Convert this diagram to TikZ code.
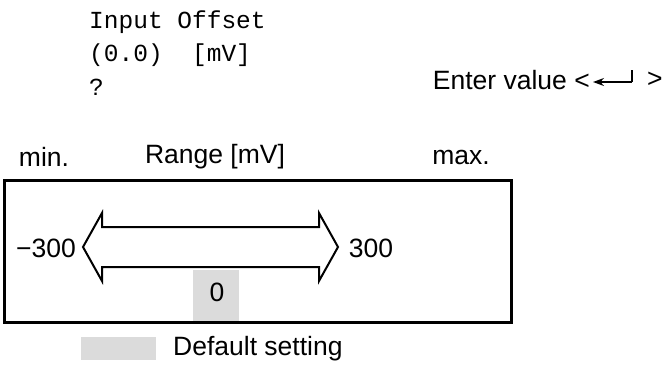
\documentclass[tikz,border=0pt]{standalone}
\usepackage{fontspec}
\setmainfont{Liberation Sans}
\setmonofont{Liberation Mono}
\usetikzlibrary{arrows.meta}
\definecolor{deflt}{gray}{0.86}
\tikzset{
  lbl/.style={inner sep=0pt,font=\fontsize{26.5}{31}\selectfont},
  scr/.style={inner sep=0pt,anchor=west,font=\ttfamily\fontsize{24.5}{29}\selectfont},
}
\begin{document}
\begin{tikzpicture}[x=1pt,y=-1pt]
  \useasboundingbox (0,0) rectangle (669,365);
  \node[scr] (title) at (89,22) {Input Offset};
  \node[scr] (unit) at (89,55) {(0.0)\ \ [mV]};
  \node[scr] (ask) at (89,87) {?};
  \node[lbl,anchor=east] (enter) at (590,80) {Enter value <};
  \node[lbl,anchor=west] (close) at (647,80) {>};
  \coordinate (ret) at (632,82);
  \draw[line width=1.2pt,-{Stealth[length=11pt,width=8pt]}] (ret) -- (593,82);
  \draw[line width=1.2pt] (ret) -- ++(0,-12);
  \node[lbl] (min) at (44,157) {min.};
  \node[lbl] (range) at (215,157) {Range [mV]};
  \node[lbl] (max) at (461,157) {max.};
  \fill[deflt] (193,270) rectangle (239,322);
  \draw[line width=3pt] (4,180) rectangle (511,322);
  \draw[line width=2pt,line join=miter] (83,247) -- (102,213) -- (102,227) -- (319,227) -- (319,213)
    -- (338,247) -- (319,281) -- (319,267) -- (102,267) -- (102,281) -- cycle;
  \node[lbl] (lo) at (46,248) {−300};
  \node[lbl] (hi) at (371,248) {300};
  \node[lbl] (zero) at (217,292) {0};
  \fill[deflt] (81,337) rectangle (156,360);
  \node[lbl,anchor=west] (legend) at (173,349) {Default setting};
\end{tikzpicture}
\end{document}
